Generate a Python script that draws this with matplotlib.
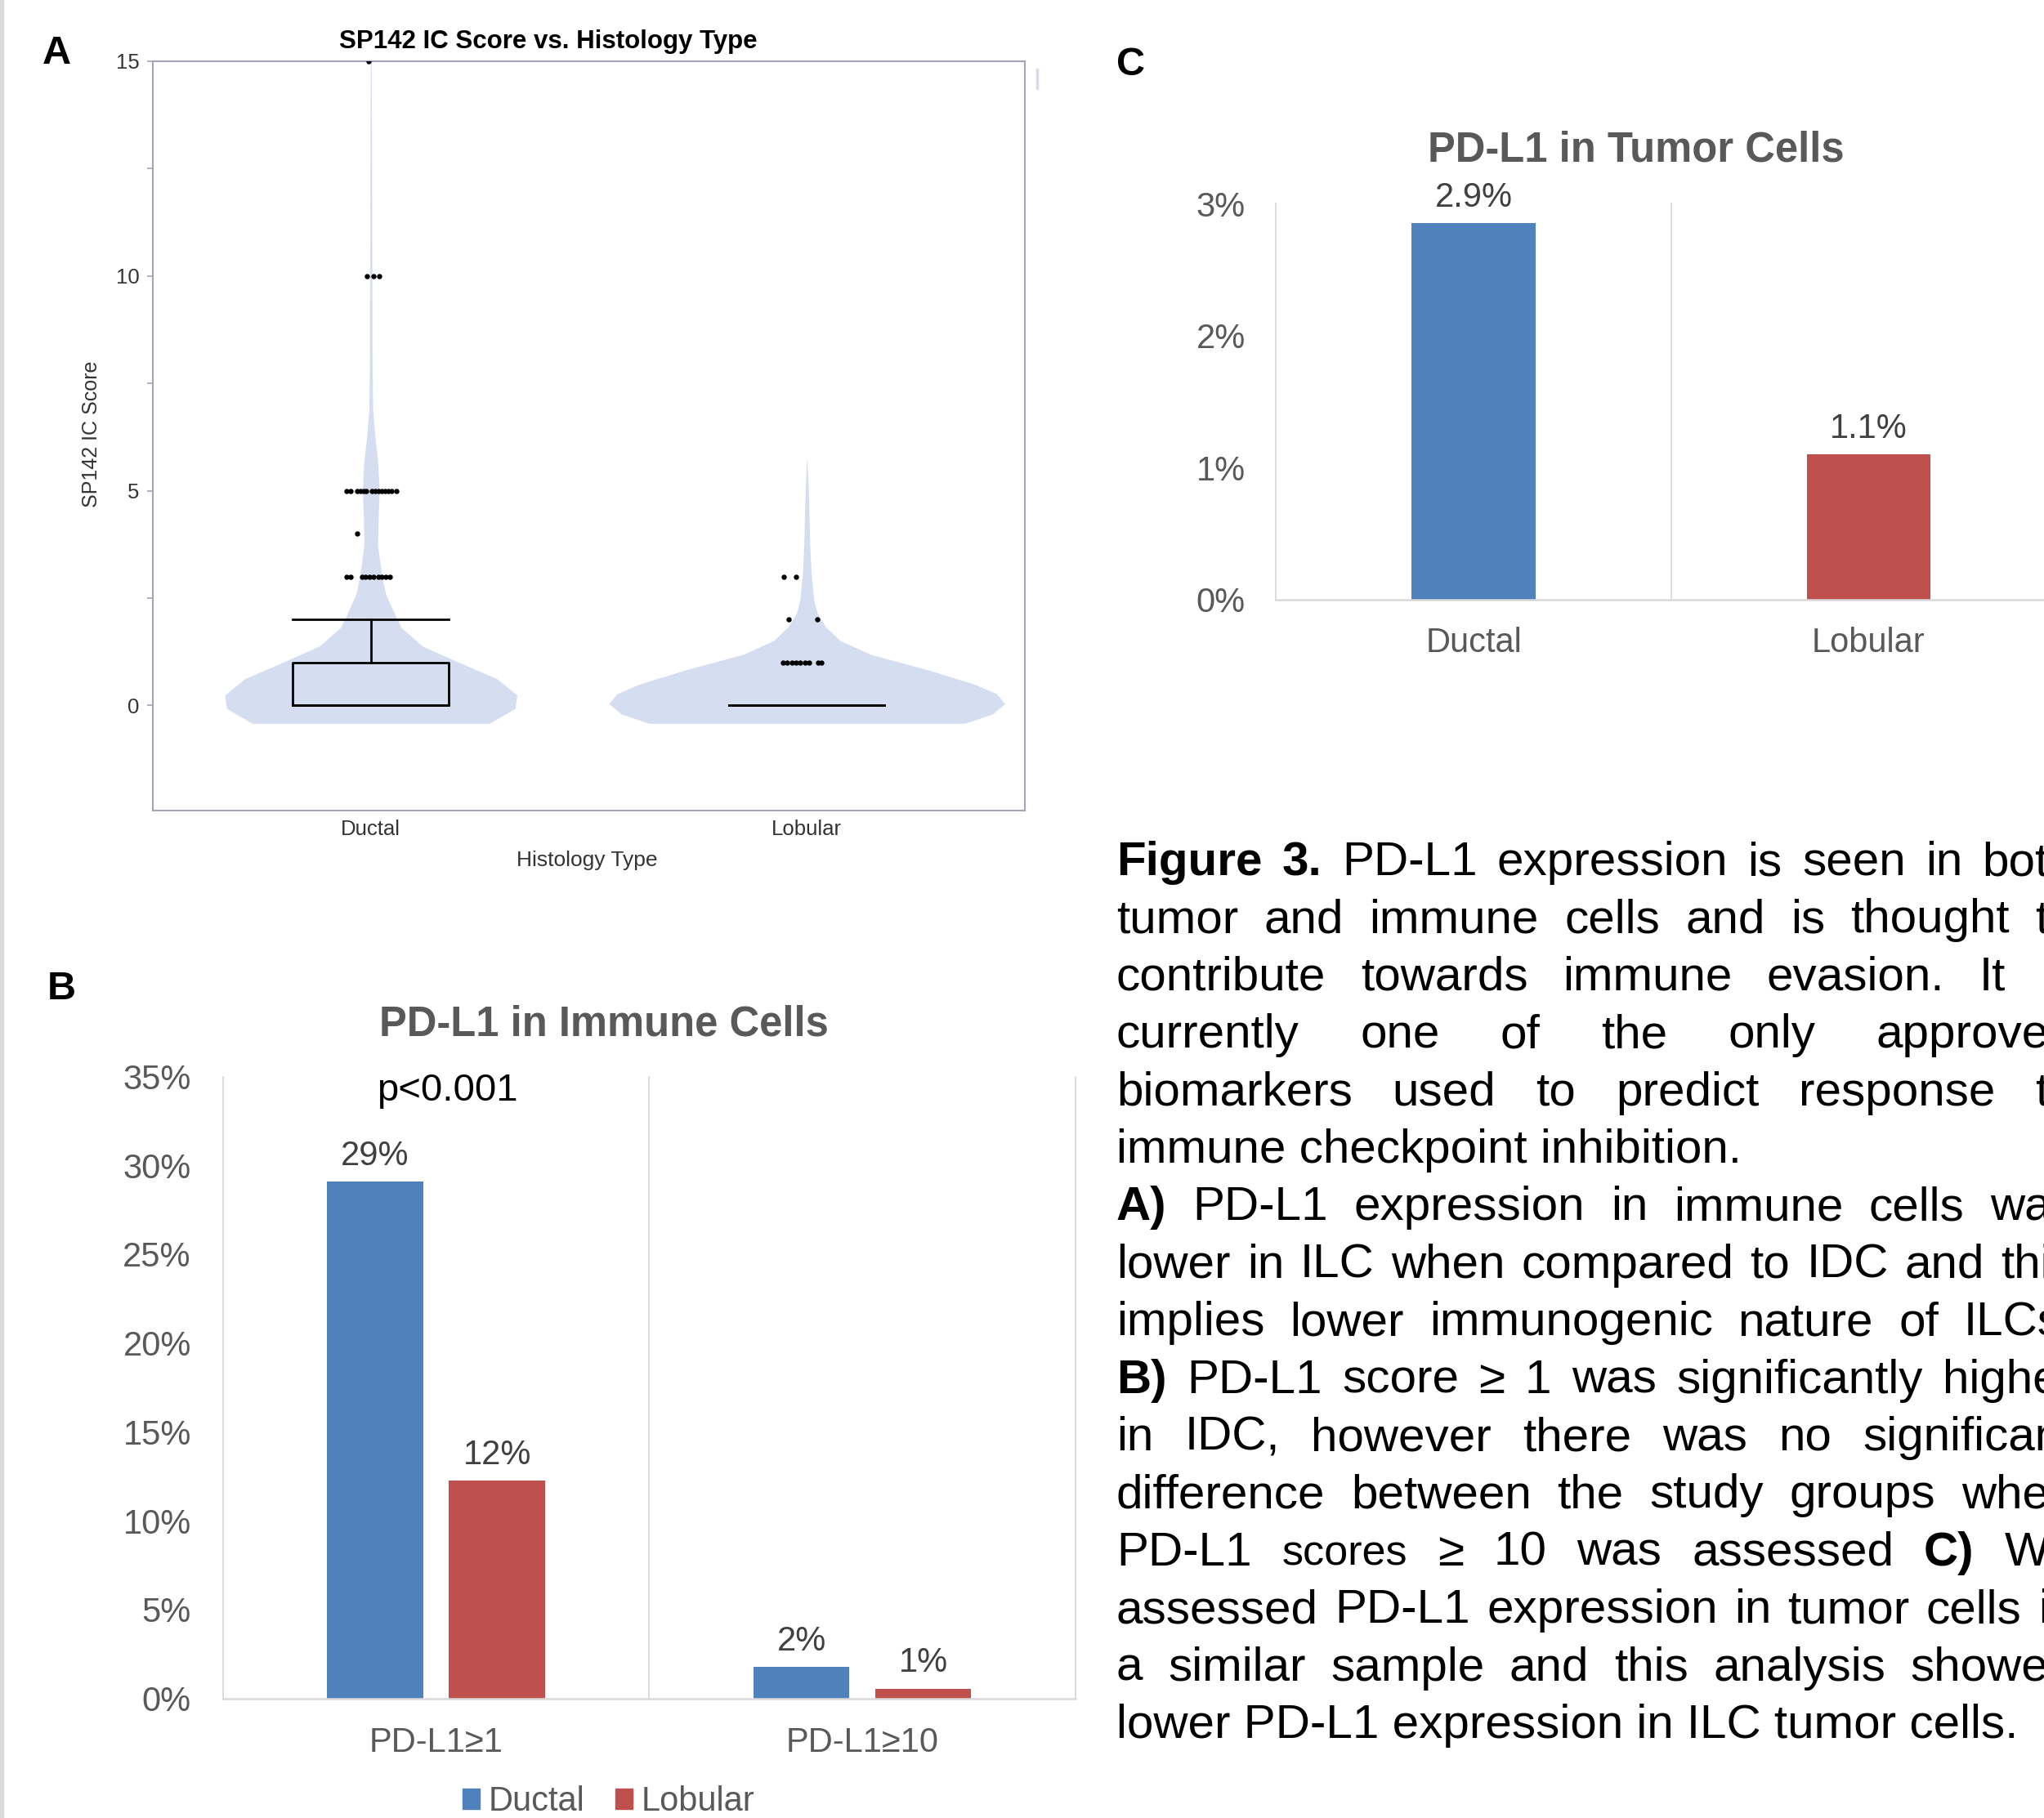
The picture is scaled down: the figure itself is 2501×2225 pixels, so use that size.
import matplotlib
matplotlib.use("Agg")
import numpy as np
import matplotlib.pyplot as plt
from matplotlib.patches import Patch, Rectangle
from matplotlib.lines import Line2D
from matplotlib.ticker import FuncFormatter, MultipleLocator

plt.rcParams['font.family'] = ['Liberation Sans', 'DejaVu Sans']

W, H = 2501, 2225

# ---------------- data ----------------
# Panel A: violin outlines (score, half width)
ductal_violin_y = [-0.42, -0.07, 0.24, 0.62, 1.0, 1.38, 1.82, 2.14, 2.59, 3.03,
                   3.73, 4.36, 5.0, 5.63, 6.26, 6.9, 8.0, 10.0, 12.5, 15.0]
ductal_violin_w = [0.272, 0.331, 0.335, 0.289, 0.202, 0.118, 0.069, 0.054, 0.034, 0.025,
                   0.0156, 0.0169, 0.0193, 0.0163, 0.0094, 0.0043, 0.003, 0.0025, 0.002, 0.001]
lobular_violin_y = [-0.42, -0.2, 0.04, 0.27, 0.49, 0.81, 1.19, 1.51, 1.83, 2.14,
                    2.46, 3.09, 3.73, 4.36, 5.0, 5.72]
lobular_violin_w = [0.362, 0.426, 0.454, 0.435, 0.385, 0.283, 0.145, 0.076, 0.043, 0.024,
                    0.0158, 0.0099, 0.0069, 0.0053, 0.0036, 0.0005]

# individual scores shown as dots (score, horizontal jitter)
ductal_pts_y = [15, 10, 10, 10,
                5, 5, 5, 5, 5, 5, 5, 5, 5, 5, 5, 5, 5, 5,
                4,
                3, 3, 3, 3, 3, 3, 3, 3, 3, 3]
ductal_pts_dx = [-0.005, -0.008, 0.007, 0.020,
                 -0.056, -0.047, -0.032, -0.024, -0.017, -0.010, 0.002, 0.010, 0.017,
                 0.024, 0.032, 0.039, 0.047, 0.059,
                 -0.032,
                 -0.056, -0.047, -0.021, -0.012, -0.003, 0.007, 0.017, 0.025, 0.035, 0.043]
lobular_pts_y = [3, 3, 2, 2, 1, 1, 1, 1, 1, 1, 1, 1, 1]
lobular_pts_dx = [-0.053, -0.025, -0.041, 0.023,
                  -0.055, -0.045, -0.035, -0.025, -0.015, -0.005, 0.005, 0.026, 0.034]

ductal_box = dict(q1=0, med=0, q3=1, whislo=0, whishi=2)
lobular_box = dict(q1=0, med=0, q3=0, whislo=0, whishi=0)

# Panel B
b_categories = ['PD-L1≥1', 'PD-L1≥10']
b_ductal = [0.291, 0.0177]
b_lobular = [0.1226, 0.0055]
b_ductal_labels = ['29%', '2%']
b_lobular_labels = ['12%', '1%']

# Panel C
c_categories = ['Ductal', 'Lobular']
c_values = [0.0285, 0.011]
c_labels = ['2.9%', '1.1%']

caption_lines = [
    "*Figure *3. PD-L1 expression is seen in both",
    "tumor and immune cells and is thought to",
    "contribute towards immune evasion. It is",
    "currently one of the only approved",
    "biomarkers used to predict response to",
    "immune checkpoint inhibition.",
    "*A) PD-L1 expression in immune cells was",
    "lower in ILC when compared to IDC and this",
    "implies lower immunogenic nature of ILCs.",
    "*B) PD-L1 score ≥ 1 was significantly higher",
    "in IDC, however there was no significant",
    "difference between the study groups when",
    "PD-L1 ~scores ≥ 10 was assessed *C) We",
    "assessed PD-L1 expression in tumor cells in",
    "a similar sample and this analysis showed",
    "lower PD-L1 expression in ILC tumor cells.",
]
caption_justify = [True, True, True, True, True, False, True, True, True,
                   True, True, True, True, True, True, False]

# ---------------- styles ----------------
blue = '#4f81bd'
red = '#c0504d'
grid = '#d9d9d9'
gray_txt = '#595959'
lab_txt = '#404040'
violin_col = '#d5ddf0'
frameA = '#a4a4ba'


def fx(x):
    return x / W


def fy(y):
    return 1 - y / H


fig = plt.figure(figsize=(W / 100, H / 100), dpi=100)

# thin grey border on the left edge
fig.patches.append(Rectangle((0, 0), 4 / W, 1, transform=fig.transFigure,
                             color='#dcdcdc', zorder=0))
fig.add_artist(Line2D([fx(1269), fx(1269)], [fy(85), fy(108)], color='#d8dce8', lw=2.5))

# ---------------- Panel A ----------------
axA = fig.add_axes([fx(187), fy(992), 1067 / W, 917 / H])
for pos, vy, vw in [(1, ductal_violin_y, ductal_violin_w), (2, lobular_violin_y, lobular_violin_w)]:
    vy = np.array(vy)
    vw = np.array(vw)
    axA.fill_betweenx(vy, pos - vw, pos + vw, color=violin_col, lw=0, zorder=1)

lineprops = dict(color='black', lw=2)
axA.bxp([ductal_box], positions=[1], widths=0.358, capwidths=0.358, showfliers=False,
        boxprops=lineprops, whiskerprops=lineprops, capprops=lineprops,
        medianprops=lineprops, manage_ticks=False, zorder=3)
axA.bxp([lobular_box], positions=[2], widths=0.356, capwidths=0.356, showfliers=False,
        boxprops=lineprops, whiskerprops=lineprops, capprops=lineprops,
        medianprops=lineprops, manage_ticks=False, zorder=3)

axA.plot(1 + np.array(ductal_pts_dx), ductal_pts_y, 'o', ms=3.6, color='black', zorder=4)
axA.plot(2 + np.array(lobular_pts_dx), lobular_pts_y, 'o', ms=3.6, color='black', zorder=4)

axA.set_xlim(0.5, 2.5)
axA.set_ylim(-2.45, 15)
axA.set_yticks([0, 5, 10, 15])
axA.yaxis.set_minor_locator(MultipleLocator(2.5))
axA.set_xticks([1, 2])
axA.set_xticklabels(['Ductal', 'Lobular'])
for s in axA.spines.values():
    s.set_color(frameA)
    s.set_linewidth(1.5)
axA.tick_params(axis='y', which='both', direction='out', length=5, width=1.2,
                color=frameA, labelsize=18.5, labelcolor='#333333', pad=7)
axA.tick_params(axis='x', length=0, labelsize=18.5, labelcolor='#333333', pad=8)

fig.text(fx(671), fy(59), 'SP142 IC Score vs. Histology Type', fontsize=22.5,
         fontweight='bold', ha='center', va='baseline')
fig.text(fx(718), fy(1060), 'Histology Type', fontsize=19, color='#333333',
         ha='center', va='baseline')
fig.text(fx(112), fy(531), 'SP142 IC Score', fontsize=18, color='#333333',
         rotation=90, ha='center', va='center')
fig.text(fx(69), fy(78), 'A', fontsize=35, fontweight='bold', ha='center', va='baseline')

pct0 = FuncFormatter(lambda v, p: f"{v * 100:.0f}%")

# ---------------- Panel B ----------------
axB = fig.add_axes([fx(272.7), fy(2078.5), 1043.3 / W, 761 / H])
xb = np.arange(len(b_categories))
bw, off = 0.225, 0.143
barsD = axB.bar(xb - off, b_ductal, bw, color=blue, zorder=2)
barsL = axB.bar(xb + off, b_lobular, bw, color=red, zorder=2)
axB.set_xlim(-0.5, 1.5)
axB.set_ylim(0, 0.35)
for xv in [-0.5, 0.5, 1.5]:
    axB.axvline(xv, color=grid, lw=1.3, zorder=0, clip_on=False)
for k in ['top', 'right', 'left']:
    axB.spines[k].set_visible(False)
axB.spines['bottom'].set_color(grid)
axB.spines['bottom'].set_linewidth(1.8)
axB.set_yticks(np.arange(0, 0.351, 0.05))
axB.yaxis.set_major_formatter(pct0)
axB.set_xticks(xb)
axB.set_xticklabels(b_categories)
axB.tick_params(axis='y', length=0, labelsize=30, labelcolor=gray_txt, pad=28)
axB.tick_params(axis='x', length=0, labelsize=30, labelcolor=gray_txt, pad=25)
for bars, labs in [(barsD, b_ductal_labels), (barsL, b_lobular_labels)]:
    for bar, lab in zip(bars, labs):
        axB.annotate(lab, (bar.get_x() + bar.get_width() / 2, bar.get_height()),
                     xytext=(0, 14.5), textcoords='offset points', ha='center',
                     va='baseline', fontsize=30, color=lab_txt)

fig.text(fx(738.5), fy(1267), 'PD-L1 in Immune Cells', fontsize=36.5, fontweight='bold',
         color=gray_txt, ha='center', va='baseline')
fig.text(fx(547), fy(1347), 'p<0.001', fontsize=34, color='black', ha='center', va='baseline')
fig.text(fx(75), fy(1223), 'B', fontsize=35, fontweight='bold', ha='center', va='baseline')
fig.legend(handles=[Patch(color=blue), Patch(color=red)], labels=['Ductal', 'Lobular'],
           ncol=2, loc='center', bbox_to_anchor=(fx(745), fy(2205)), frameon=False,
           fontsize=30, handlelength=0.5, handleheight=0.55, handletextpad=0.26,
           columnspacing=0.9, labelcolor=gray_txt, borderpad=0)

# ---------------- Panel C ----------------
axC = fig.add_axes([fx(1561.5), fy(733.5), 966.6 / W, 484.5 / H])
xc = np.arange(len(c_categories))
barsC = axC.bar(xc, c_values, 0.314, color=[blue, red], zorder=2)
axC.set_xlim(-0.5, 1.5)
axC.set_ylim(0, 0.03)
for xv in [-0.5, 0.5, 1.5]:
    axC.axvline(xv, color=grid, lw=1.3, zorder=0, clip_on=False)
for k in ['top', 'right', 'left']:
    axC.spines[k].set_visible(False)
axC.spines['bottom'].set_color(grid)
axC.spines['bottom'].set_linewidth(1.8)
axC.set_yticks(np.arange(0, 0.0301, 0.01))
axC.yaxis.set_major_formatter(pct0)
axC.set_xticks(xc)
axC.set_xticklabels(c_categories)
axC.tick_params(axis='y', length=0, labelsize=30, labelcolor=gray_txt, pad=27)
axC.tick_params(axis='x', length=0, labelsize=30, labelcolor=gray_txt, pad=24)
for bar, lab in zip(barsC, c_labels):
    axC.annotate(lab, (bar.get_x() + bar.get_width() / 2, bar.get_height()),
                 xytext=(0, 14.5), textcoords='offset points', ha='center',
                 va='baseline', fontsize=30, color=lab_txt)

fig.text(fx(2002), fy(197), 'PD-L1 in Tumor Cells', fontsize=36.5, fontweight='bold',
         color=gray_txt, ha='center', va='baseline')
fig.text(fx(1384), fy(92), 'C', fontsize=35, fontweight='bold', ha='center', va='baseline')

# ---------------- caption (justified, running off the right edge) ----------------
renderer = fig.canvas.get_renderer()
cap_left, cap_right = 1366, 2539
cap_base0, cap_step = 1071, 70.4
cap_size = 42
for i, (line, just) in enumerate(zip(caption_lines, caption_justify)):
    yb = fy(cap_base0 + i * cap_step)
    if not just:
        fig.text(fx(cap_left), yb, line, fontsize=cap_size, ha='left', va='baseline')
        continue
    items = []
    for w in line.split(' '):
        weight, size = 'normal', cap_size
        if w.startswith('*'):
            w, weight = w[1:], 'bold'
        elif w.startswith('~'):
            w, size = w[1:], 37.5
        t = fig.text(0, yb, w, fontsize=size, fontweight=weight, ha='left', va='baseline')
        items.append((t, t.get_window_extent(renderer).width))
    total = sum(wd for _, wd in items)
    gap = (cap_right - cap_left - total) / (len(items) - 1)
    x = cap_left
    for t, wd in items:
        t.set_x(fx(x))
        x += wd + gap

fig.savefig('out.png', dpi=100)
